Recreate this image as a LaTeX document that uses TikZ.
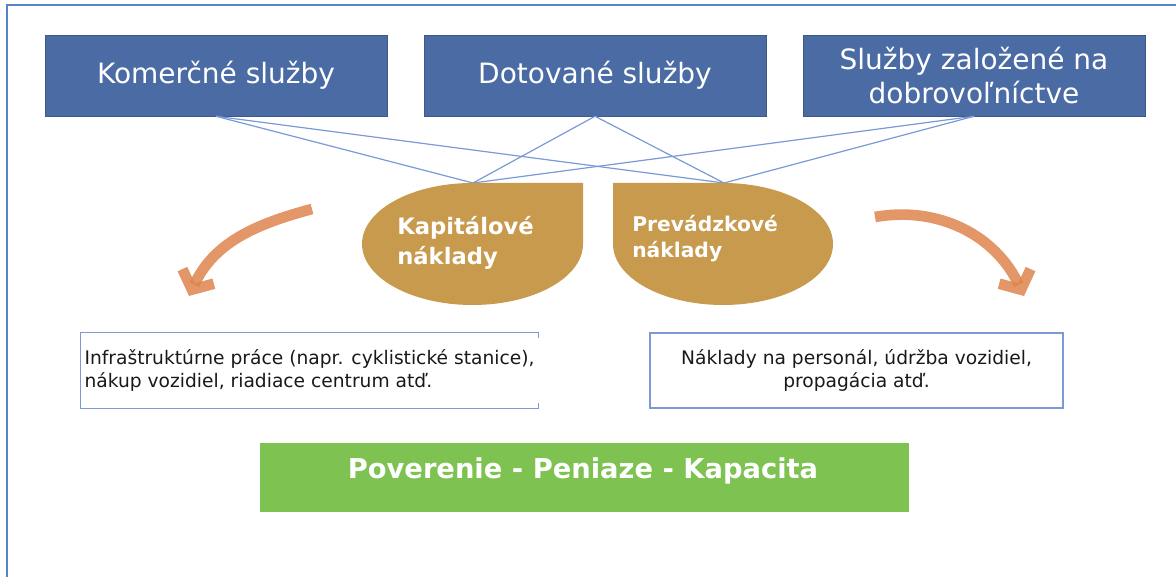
\documentclass[tikz,border=0pt]{standalone}
\usepackage{fontspec}
\setmainfont{DejaVu Sans}
\usetikzlibrary{arrows.meta}
\definecolor{boxblue}{RGB}{74,107,163}
\definecolor{boxedge}{RGB}{62,88,136}
\definecolor{linkblue}{RGB}{122,153,214}
\definecolor{costgold}{RGB}{200,154,78}
\definecolor{brushorange}{RGB}{222,132,76}
\definecolor{bargreen}{RGB}{126,194,82}
\definecolor{frameblue}{RGB}{84,132,202}
\newcommand*{\servicefont}{\fontsize{21}{26}\selectfont\color{white}}
\newcommand*{\notefont}{\fontsize{14}{17}\selectfont\color{black!90}}

\begin{document}
\begin{tikzpicture}[x=0.75pt, y=0.75pt,
  service/.style = {fill=boxblue, draw=boxedge, minimum width=256.5pt,
    minimum height=60.75pt, align=center, font=\servicefont, inner sep=0pt},
  link/.style = {draw=linkblue, line width=0.9pt},
  costtext/.style = {anchor=west, align=left, text=white, inner sep=0pt},
  notebox/.style = {minimum height=56.25pt, inner xsep=3pt, font=\notefont},
  brush/.style = {draw=brushorange, line width=8pt, opacity=0.85,
    -{Straight Barb[length=11pt, width=26pt]}}]
  \useasboundingbox (0,0) rectangle (1176,577);
  % frame
  \draw[frameblue, line width=1.5pt] (7,0) -- (7,572) -- (1176,572);

  % three kinds of services
  \node[service] (kom)  at (216,501.5) {Komerčné služby};
  \node[service] (dot)  at (595,501.5) {Dotované služby};
  \node[service] (dobr) at (974,501.5) {Služby založené na\\dobrovoľníctve};

  \coordinate (kapTop)  at (473,394);
  \coordinate (prevTop) at (724,394);
  \foreach \s in {kom,dot,dobr}
    \foreach \t in {kapTop,prevTop}
      \draw[link] (\s.south) -- (\t);

  % cost drops
  \fill[costgold] (583,394) -- (472.5,394)
    arc[start angle=90, end angle=360, x radius=110.5, y radius=61] -- cycle;
  \fill[costgold] (613,394) -- (613,333)
    arc[start angle=180, end angle=450, x radius=110, y radius=61] -- cycle;
  \node[costtext, font=\fontsize{17}{22.5}\selectfont\bfseries] (kap) at (397,334)
    {Kapitálové\\náklady};
  \node[costtext, font=\fontsize{15.2}{20}\selectfont\bfseries] (prev) at (632,338.5)
    {Prevádzkové\\náklady};

  % brush arrows
  \coordinate (kapArrS) at (312,368);
  \coordinate (kapArrE) at (189,281);
  \coordinate (prevArrS) at (875,360);
  \coordinate (prevArrE) at (1024,281);
  \draw[brush] (kapArrS) to[out=195, in=65] (kapArrE);
  \draw[brush] (prevArrS) to[out=10, in=115] (prevArrE);

  % notes
  \node[notebox, minimum width=342.75pt, align=left] (infra) at (309.5,206.5)
    {Infraštruktúrne práce (napr. cyklistické stanice),\\nákup vozidiel, riadiace centrum atď.};
  \draw[linkblue, line width=0.9pt] ([yshift=-4pt]infra.north east) -- (infra.north east)
    -- (infra.north west) -- (infra.south west) -- (infra.south east)
    -- ([yshift=4pt]infra.south east);
  \node[notebox, minimum width=309.75pt, align=center, draw=linkblue, line width=0.9pt]
    (pers) at (856.5,206.5)
    {Náklady na personál, údržba vozidiel,\\propagácia atď.};

  \node[fill=bargreen, minimum width=486.75pt, minimum height=51.75pt, inner sep=0pt]
    (bar) at (584.5,99.5) {};
  \node[text=white, font=\fontsize{20.5}{24}\selectfont\bfseries, inner sep=0pt]
    (barText) at (583,106) {Poverenie - Peniaze - Kapacita};
\end{tikzpicture}
\end{document}
